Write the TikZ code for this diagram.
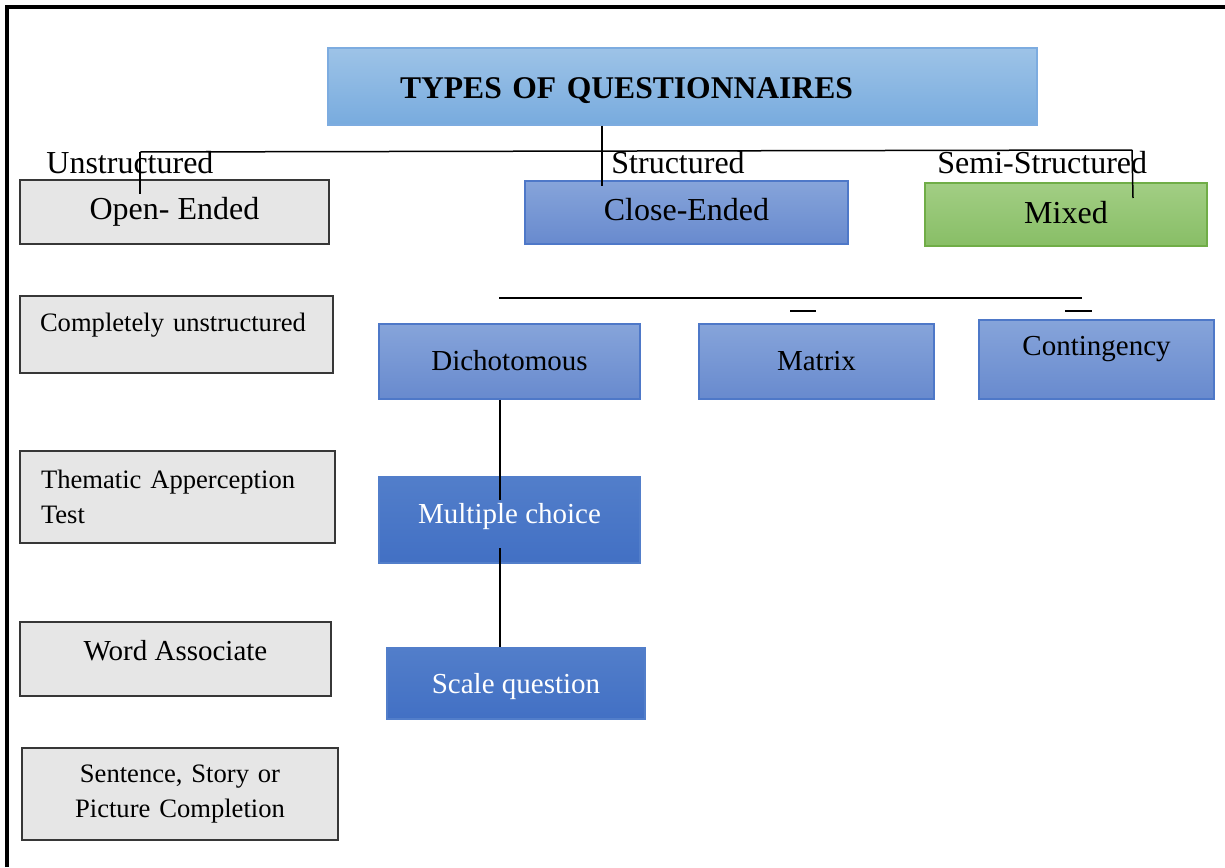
\documentclass[tikz,border=0pt]{standalone}
\usepackage{fontspec}
\setmainfont{Liberation Serif}
\definecolor{titletop}{RGB}{157,195,231}
\definecolor{titlebot}{RGB}{120,171,222}
\definecolor{titleline}{RGB}{125,172,224}
\definecolor{midtop}{RGB}{134,164,218}
\definecolor{midbot}{RGB}{104,138,206}
\definecolor{midline}{RGB}{78,120,200}
\definecolor{darktop}{RGB}{82,126,202}
\definecolor{darkbot}{RGB}{66,112,196}
\definecolor{greentop}{RGB}{162,206,132}
\definecolor{greenbot}{RGB}{136,190,102}
\definecolor{greenline}{RGB}{112,173,71}
\definecolor{greyfill}{RGB}{230,230,230}
\definecolor{greyline}{RGB}{55,55,55}
\begin{document}
\begin{tikzpicture}[x=0.5pt,y=-0.5pt,
    box/.style={rectangle, inner sep=0pt, line width=0.75pt},
    topbox/.style={box, draw=titleline, top color=titletop, bottom color=titlebot},
    midbox/.style={box, draw=midline, top color=midtop, bottom color=midbot,
      font=\fontsize{14.5}{17.5}\selectfont},
    darkbox/.style={box, draw=darktop, top color=darktop, bottom color=darkbot,
      text=white, font=\fontsize{14.5}{17.5}\selectfont},
    greenbox/.style={box, draw=greenline, top color=greentop, bottom color=greenbot},
    greybox/.style={box, draw=greyline, fill=greyfill,
      font=\fontsize{13.3}{17.5}\selectfont},
    big/.style={font=\fontsize{16}{19}\selectfont},
    lbl/.style={inner sep=0pt, anchor=base west, big},
    bl/.style={text height=#1, text depth=0pt},
    bu/.style={text height=0pt, text depth=#1},
    link/.style={line width=0.75pt},
    frameline/.style={line width=1.6pt}]
  \useasboundingbox (0,0) rectangle (1225,867);
  \draw[frameline] (7,867) -- (7,7) -- (1225,7);

  \node (title) at (682.5,86.5) [topbox, minimum height=38.5pt, text width=282.5pt,
    inner xsep=36pt, align=left, bl=11.5pt,
    font=\fontsize{15.8}{19}\selectfont\bfseries] {TYPES OF QUESTIONNAIRES};

  \node (unst) at (46,173) [lbl] {Unstructured};
  \node (st) at (611,173) [lbl] {Structured};
  \node (semi) at (937,173) [lbl] {Semi-Structured};

  \node (open) at (174.5,212) [greybox, big, minimum width=154.5pt,
    minimum height=32pt, bl=7pt] {Open- Ended};
  \node (close) at (686.5,212.5) [midbox, big, minimum width=161.5pt,
    minimum height=31.5pt, bl=7.5pt] {Close-Ended};
  \node (mixed) at (1066,214.5) [greenbox, big, minimum width=141pt,
    minimum height=31.5pt, bl=8.5pt] {Mixed};

  \node (compl) at (176.5,334.5) [greybox, minimum height=38.5pt, text width=136.5pt,
    inner xsep=10pt, align=left, bu=3.5pt] {Completely unstructured};
  \node (dich) at (509.5,361.5) [midbox, minimum width=130.5pt,
    minimum height=37.5pt, bl=8.5pt] {Dichotomous};
  \node (matrix) at (816.5,361.5) [midbox, minimum width=117.5pt,
    minimum height=37.5pt, bl=8.5pt] {Matrix};
  \node (cont) at (1096.5,359.5) [midbox, minimum width=117.5pt,
    minimum height=39.5pt, bu=4.5pt] {Contingency};

  \node (tat) at (177.5,497) [greybox, minimum height=46pt, text width=136.5pt,
    inner xsep=10.5pt, align=left] {Thematic Apperception\\Test};
  \node (multi) at (509.5,520) [darkbox, minimum width=130.5pt,
    minimum height=43pt, bl=3pt] {Multiple choice};

  \node (word) at (175.5,659) [greybox, font=\fontsize{14.5}{17.5}\selectfont,
    minimum width=155.5pt, minimum height=37pt, bl=1pt] {Word Associate};
  \node (scale) at (516,683.5) [darkbox, minimum width=129pt,
    minimum height=35.5pt, bl=9.5pt] {Scale question};

  \node (sent) at (180,794) [greybox, minimum height=46pt, text width=158pt,
    align=center] {Sentence, Story or\\Picture Completion};

  \coordinate (busW) at (140,152); \coordinate (busE) at (1132,150);
  \coordinate (openIn) at (140,194); \coordinate (closeIn) at (602,186);
  \coordinate (mixedIn) at (1133,198);
  \draw[link] (busW) -- (busE); \draw[link] (busW) -- (openIn);
  \draw[link] (title.south -| closeIn) -- (closeIn);
  \draw[link] (busE) -- (mixedIn);

  \coordinate (bus2W) at (499,298); \coordinate (bus2E) at (1082,298);
  \coordinate (stubA) at (790,311); \coordinate (stubAe) at (816,311);
  \coordinate (stubB) at (1065,311); \coordinate (stubBe) at (1092,311);
  \draw[link, line width=1pt] (bus2W) -- (bus2E);
  \draw[link] (stubA) -- (stubAe); \draw[link] (stubB) -- (stubBe);

  \coordinate (multiIn) at (500,500); \coordinate (multiOut) at (500,548);
  \draw[link] (dich.south -| multiIn) -- (multiIn);
  \draw[link] (multiOut) -- (scale.north -| multiOut);
\end{tikzpicture}
\end{document}
